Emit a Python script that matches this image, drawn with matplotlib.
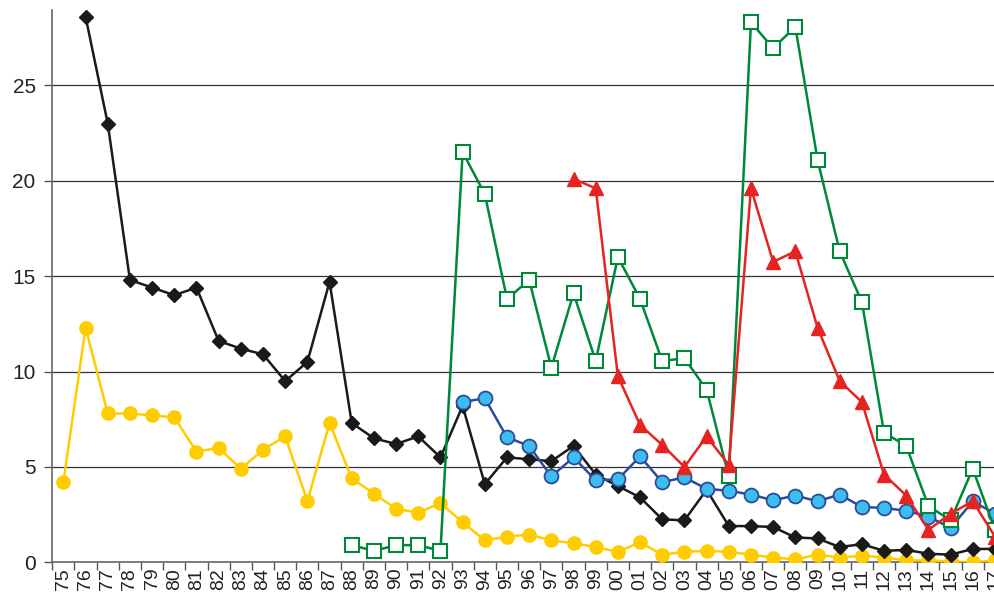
import numpy as np
import matplotlib
matplotlib.use("Agg")
import matplotlib.pyplot as plt

plt.rcParams['font.family'] = ['Liberation Sans', 'DejaVu Sans']

years = ["75","76","77","78","79","80","81","82","83","84","85","86","87","88","89",
         "90","91","92","93","94","95","96","97","98","99","00","01","02","03","04",
         "05","06","07","08","09","10","11","12","13","14","15","16","17"]
nan = np.nan

black = [nan, 28.6, 23.0, 14.8, 14.4, 14.0, 14.4, 11.6, 11.2, 10.9, 9.5, 10.5, 14.7,
         7.3, 6.5, 6.2, 6.6, 5.5, 8.2, 4.1, 5.5, 5.4, 5.3, 6.1, 4.6, 4.0, 3.4, 2.25,
         2.2, 3.8, 1.9, 1.9, 1.85, 1.3, 1.25, 0.8, 0.95, 0.6, 0.65, 0.45, 0.4, 0.7, 0.7]

yellow = [4.2, 12.3, 7.8, 7.8, 7.7, 7.6, 5.8, 6.0, 4.9, 5.9, 6.6, 3.2, 7.3, 4.4, 3.6,
          2.8, 2.6, 3.1, 2.1, 1.15, 1.35, 1.45, 1.15, 1.0, 0.8, 0.55, 1.05, 0.4, 0.55,
          0.6, 0.55, 0.4, 0.25, 0.15, 0.4, 0.25, 0.35, 0.25, 0.1, 0.1, 0.05, 0.0, 0.1]

green = [nan]*13 + [0.9, 0.6, 0.9, 0.9, 0.6, 21.5, 19.3, 13.8, 14.8, 10.2, 14.1, 10.55,
         16.0, 13.8, 10.55, 10.7, 9.05, 4.5, 28.3, 26.95, 28.07, 21.1, 16.3, 13.65,
         6.8, 6.1, 2.95, 2.2, 4.9, 1.7]

red = [nan]*23 + [20.1, 19.6, 9.75, 7.2, 6.15, 5.0, 6.6, 5.1, 19.6, 15.75, 16.3, 12.3,
       9.5, 8.4, 4.6, 3.5, 1.7, 2.55, 3.2, 1.35]

blue = [nan]*18 + [8.4, 8.6, 6.55, 6.1, 4.5, 5.5, 4.3, 4.35, 5.55, 4.2, 4.45, 3.85,
        3.75, 3.55, 3.25, 3.5, 3.2, 3.55, 2.9, 2.85, 2.7, 2.4, 1.8, 3.2, 2.55]

W, H = 995, 603
fig = plt.figure(figsize=(W/100, H/100), dpi=100)
left_px, bottom_px, top_px = 52.3, 40.7, 10
ax = fig.add_axes([left_px/W, bottom_px/H, (W-left_px)/W, (H-bottom_px-top_px)/H])

x = np.arange(len(years))
lw = 1.8
ax.plot(x, yellow, color='#FFCC00', lw=lw, marker='o', ms=9.5, mfc='#FFCC00',
        mec='#FFCC00', zorder=3)
ax.plot(x, black, color='#1a1a1a', lw=lw, marker='D', ms=7.5, mfc='#1a1a1a',
        mec='#1a1a1a', zorder=4)
ax.plot(x, blue, color='#2A4C9B', lw=lw, marker='o', ms=10, mfc='#3DBDEE',
        mec='#2A4C9B', mew=1.3, zorder=5)
ax.plot(x, green, color='#00883A', lw=lw, marker='s', ms=9.5, mfc='white',
        mec='#00883A', mew=1.5, zorder=6)
ax.plot(x, red, color='#E52421', lw=lw, marker='^', ms=10.5, mfc='#E52421',
        mec='#E52421', zorder=7)

ax.set_yticks([0, 5, 10, 15, 20, 25])
ax.set_yticklabels(['0', '5', '10', '15', '20', '25'], fontsize=15, color='#222222')
ax.yaxis.grid(True, color='#333333', lw=0.9)
ax.set_axisbelow(True)

ax.set_xticks(x)
ax.set_xticklabels(years, rotation=90, fontsize=14, color='#222222')
ax.set_xticks(np.arange(-0.5, len(years), 1), minor=True)
ax.tick_params(axis='x', which='major', length=0, pad=4)
ax.tick_params(axis='x', which='minor', length=6, color='#555555', width=1)
ax.tick_params(axis='y', length=6, color='#555555', width=1, pad=6)

ax.set_xlim(-0.5, (W - left_px)/22.18 - 0.5)
ax.set_ylim(0, 28.95)

for s in ['top', 'right']:
    ax.spines[s].set_visible(False)
ax.spines['left'].set_color('#666666')
ax.spines['left'].set_linewidth(1.2)
ax.spines['bottom'].set_color('#666666')
ax.spines['bottom'].set_linewidth(1.2)

fig.savefig('out.png', dpi=100)
